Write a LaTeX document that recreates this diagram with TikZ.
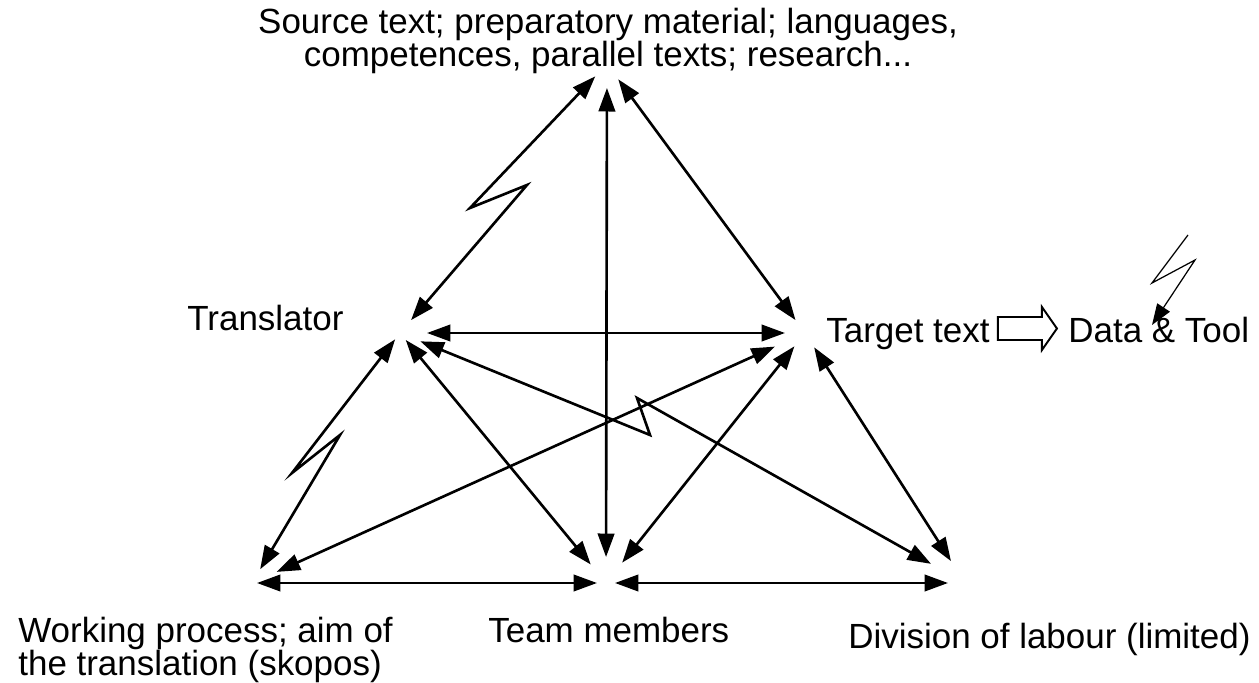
\documentclass[tikz,border=0pt]{standalone}
\usepackage{fontspec}
\setmainfont{Liberation Sans}
\usetikzlibrary{arrows.meta}

\tikzset{
  lbl/.style={inner sep=0pt, font=\fontsize{19.9}{18.8}\selectfont},
  link/.style={<->, >={Triangle[length=0.47cm,width=0.33cm]}, line width=1.5pt, line join=miter},
  tipgap/.style 2 args={shorten <=#1*0.02cm, shorten >=#2*0.02cm},
}

\begin{document}
\begin{tikzpicture}[x=0.02cm, y=-0.02cm]
  \useasboundingbox (0,0) rectangle (1259,683);

  \node[lbl, anchor=north, align=center] (src) at (608,7.5) {Source text; preparatory material; languages,\\competences, parallel texts; research...};
  \node[lbl, anchor=base west] (trl) at (187,330) {Translator};
  \node[lbl, anchor=base west] (tgt) at (826,342) {Target text};
  \node[lbl, anchor=base west] (dat) at (1068,342) {Data \& Tool};
  \node[lbl, anchor=north west, align=left] (wrk) at (18,616.5) {Working process; aim of\\the translation (skopos)};
  \node[lbl, anchor=base west] (team) at (488,642) {Team members};
  \node[lbl, anchor=base west] (div) at (848,648) {Division of labour (limited)};

  \coordinate (S) at (607,64);
  \coordinate (T) at (400,333);
  \coordinate (G) at (805,333);
  \coordinate (W) at (252,583);
  \coordinate (M) at (606,583);
  \coordinate (D) at (965,583);

  \coordinate (st1) at (470,208);
  \coordinate (st2) at (527,185);
  \coordinate (tw1) at (292,473);
  \coordinate (tw2) at (340,435);
  \coordinate (td1) at (650,435);
  \coordinate (td2) at (637,398);

  \draw[link, tipgap={17}{17}] (S) -- (st1) -- (st2) -- (T);
  \draw[link, tipgap={24}{26}] (S) -- (M);
  \draw[link, tipgap={19}{16}] (S) -- (G);
  \draw[link, tipgap={27}{20}] (T) -- (G);
  \draw[link, tipgap={8}{16}] (T) -- (tw1) -- (tw2) -- (W);
  \draw[link, tipgap={9}{24}] (T) -- (M);
  \draw[link, tipgap={22}{39}] (T) -- (td1) -- (td2) -- (D);
  \draw[link, tipgap={27}{33}] (W) -- (G);
  \draw[link, tipgap={17}{26}] (G) -- (M);
  \draw[link, tipgap={17}{26}] (G) -- (D);
  \draw[link, tipgap={5}{9}] (W) -- (M);
  \draw[link, tipgap={9}{17}] (M) -- (D);

  \draw[line width=1.1pt, line join=miter] (tgt.base east) ++(8,-25) -- ++(44,0) -- ++(0,-10)
    -- ++(15,21.5) -- ++(-15,21.5) -- ++(0,-10) -- ++(-44,0) -- cycle;

  \coordinate (z0) at (1188,235);
  \coordinate (z1) at (1152,283);
  \coordinate (z2) at (1195,260);
  \coordinate (z3) at (1152,325);
  \draw[->, >={Triangle[length=0.42cm,width=0.3cm]}, line width=0.7pt, line join=miter] (z0) -- (z1) -- (z2) -- (z3);
\end{tikzpicture}
\end{document}
